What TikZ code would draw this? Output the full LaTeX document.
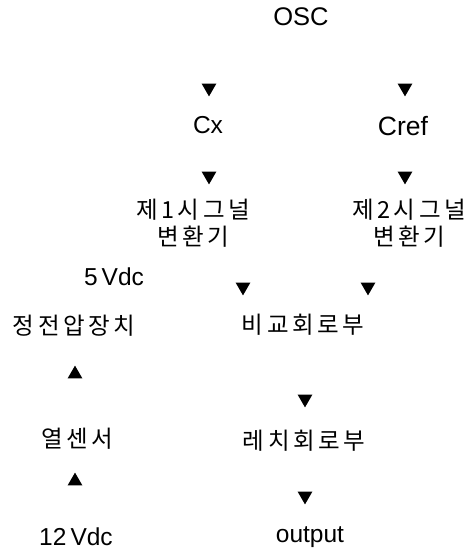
\documentclass[tikz,border=0pt]{standalone}
\usepackage{fontspec}
\setmainfont{Liberation Sans}
\newfontfamily\kr[LetterSpace=15]{Noto Sans CJK KR}
\usetikzlibrary{shapes.geometric}
\tikzset{
  lat/.style={anchor=base, inner sep=0pt, font=\fontsize{24.5}{28}\selectfont},
  kor/.style={anchor=center, inner sep=0pt, align=center, font=\kr\fontsize{23.5}{27}\selectfont},
  tridown/.style={regular polygon, regular polygon sides=3, shape border rotate=180, fill=black, draw=none, inner sep=0pt, minimum size=17pt, yshift=2.1pt},
  triup/.style={regular polygon, regular polygon sides=3, fill=black, draw=none, inner sep=0pt, minimum size=17pt, yshift=-2.1pt}
}
\begin{document}
\begin{tikzpicture}[x=1pt,y=-1pt]
\useasboundingbox (0,0) rectangle (468,549);
% texts
\node[lat, font=\fontsize{25.5}{28}\selectfont] (osc) at (301,25) {OSC};
\node[lat] (cx) at (208,133) {Cx};
\node[lat, font=\fontsize{26.5}{28}\selectfont] (cref) at (403,135) {Cref};
\node[kor] (sig1) at (193,223) {제1시그널\\변환기};
\node[kor] (sig2) at (409,223) {제2시그널\\변환기};
\node[lat] (v5) at (114,285) {5\,Vdc};
\node[kor] (reg) at (74,326) {정전압장치};
\node[kor] (cmp) at (303,325) {비교회로부};
\node[kor] (heat) at (77,439) {열센서};
\node[kor] (latch) at (304,441) {레치회로부};
\node[lat] (v12) at (76,545) {12\,Vdc};
\node[lat] (out) at (310,542) {output};
% arrowheads
\node[tridown] (a1) at (209,90) {};
\node[tridown] (a2) at (405,90) {};
\node[tridown] (a3) at (209,178) {};
\node[tridown] (a4) at (405,178) {};
\node[tridown] (a5) at (243,289) {};
\node[tridown] (a6) at (368,289) {};
\node[tridown] (a7) at (305,401) {};
\node[tridown] (a8) at (305,498) {};
\node[triup] (u1) at (75,372) {};
\node[triup] (u2) at (75,479) {};
\end{tikzpicture}
\end{document}
